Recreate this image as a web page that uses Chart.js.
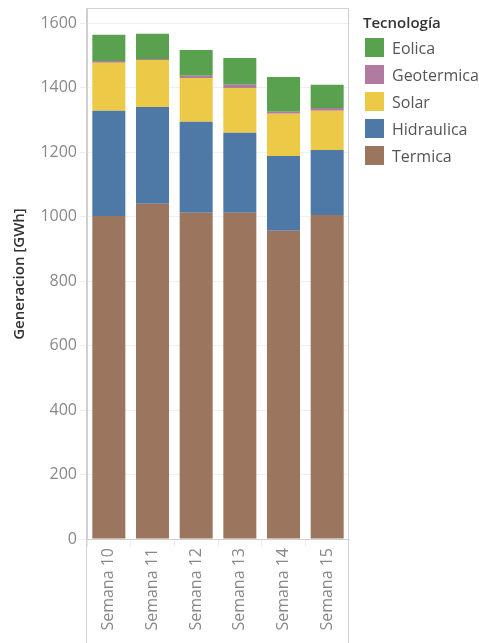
<!DOCTYPE html>
<html>
<head>
<meta charset="utf-8">
<script src="https://cdn.jsdelivr.net/npm/chart.js@4/dist/chart.umd.min.js"></script>
<style>
  html, body { margin: 0; padding: 0; background: #fff; }
  #wrap { position: relative; width: 479px; height: 643px; }
  #legend { position: absolute; left: 363px; top: 9px; font-family: 'Open Sans', sans-serif; }
  #legend .title { font-size: 15px; font-weight: 600; color: #333; line-height: 20px; padding-top: 3px; margin-bottom: 2px; }
  #legend .item { display: flex; align-items: center; height: 27px; margin-left: 2px; }
  #legend .box { width: 19px; height: 19px; margin-right: 8px; }
  #legend .name { font-size: 16px; color: #555; }
</style>
</head>
<body>
<div id="wrap">
  <canvas id="chart" width="479" height="643"></canvas>
  <div id="legend"></div>
</div>
<script>
// weekly generation by technology, GWh
const semanas = ['Semana 10', 'Semana 11', 'Semana 12', 'Semana 13', 'Semana 14', 'Semana 15'];
const termica    = [1002, 1040, 1012, 1012, 956, 1005];
const hidraulica = [326, 300, 282, 248, 232, 202];
const solar      = [149, 146, 136, 139, 131, 121];
const geotermica = [6, 3, 7, 10, 6, 9];
const eolica     = [81, 78, 80, 83, 108, 72];
const yTicks = [0, 200, 400, 600, 800, 1000, 1200, 1400, 1600];

const series = [
  { label: 'Termica', data: termica, color: '#9c755f' },
  { label: 'Hidraulica', data: hidraulica, color: '#4e79a7' },
  { label: 'Solar', data: solar, color: '#edc948' },
  { label: 'Geotermica', data: geotermica, color: '#b07aa1' },
  { label: 'Eolica', data: eolica, color: '#59a14f' }
];

Chart.defaults.font.family = "'Open Sans', sans-serif";

// border round the plot that runs down through the label area
const frame = {
  id: 'frame',
  afterDraw(chart) {
    const { ctx, chartArea } = chart;
    const l = Math.round(chartArea.left) - 0.5;
    const r = Math.round(chartArea.right) - 0.5;
    const t = Math.round(chartArea.top) - 0.5;
    ctx.save();
    ctx.strokeStyle = '#d0d0d0';
    ctx.lineWidth = 1;
    ctx.beginPath();
    ctx.moveTo(l, chart.height);
    ctx.lineTo(l, t);
    ctx.lineTo(r, t);
    ctx.lineTo(r, chart.height);
    ctx.stroke();
    ctx.restore();
  }
};

new Chart(document.getElementById('chart'), {
  type: 'bar',
  data: {
    labels: semanas,
    datasets: series.map(s => ({
      label: s.label,
      data: s.data,
      backgroundColor: s.color,
      borderWidth: 0,
      barPercentage: 0.756,
      categoryPercentage: 1
    }))
  },
  options: {
    responsive: false,
    animation: false,
    devicePixelRatio: 1,
    layout: { padding: { top: 9, right: 130, left: 0, bottom: 0 } },
    plugins: {
      legend: { display: false },
      tooltip: { enabled: false }
    },
    scales: {
      x: {
        stacked: true,
        afterFit(scale) {
          scale.height = 104;
          scale.paddingLeft = 0;
          scale.paddingRight = 0;
        },
        grid: {
          offset: true,
          drawOnChartArea: false,
          color: '#ececec',
          tickLength: 8
        },
        border: { color: '#d0d0d0' },
        ticks: {
          minRotation: 90,
          maxRotation: 90,
          padding: 1,
          color: '#888',
          font: { size: 16 }
        }
      },
      y: {
        stacked: true,
        min: 0,
        max: 1644,
        afterFit(scale) {
          scale.width = 87;
          scale.paddingTop = 0;
          scale.paddingBottom = 0;
        },
        afterBuildTicks(scale) { scale.ticks = yTicks.map(v => ({ value: v })); },
        grid: {
          color: '#f0f0f0',
          tickColor: '#ececec',
          tickLength: 7
        },
        border: { color: '#d0d0d0' },
        ticks: {
          padding: 3,
          color: '#888',
          font: { size: 16 },
          callback: v => String(v)
        },
        title: {
          display: true,
          text: 'Generacion [GWh]',
          color: '#333',
          font: { size: 15, weight: 600 },
          padding: { top: 11, bottom: 0 }
        }
      }
    }
  },
  plugins: [frame]
});

// legend, top entry is the top of the stack
const legend = document.getElementById('legend');
legend.innerHTML = '<div class="title">Tecnología</div>' +
  series.slice().reverse().map(s =>
    '<div class="item"><div class="box" style="background:' + s.color + '"></div>' +
    '<span class="name">' + s.label + '</span></div>').join('');
</script>
</body>
</html>
